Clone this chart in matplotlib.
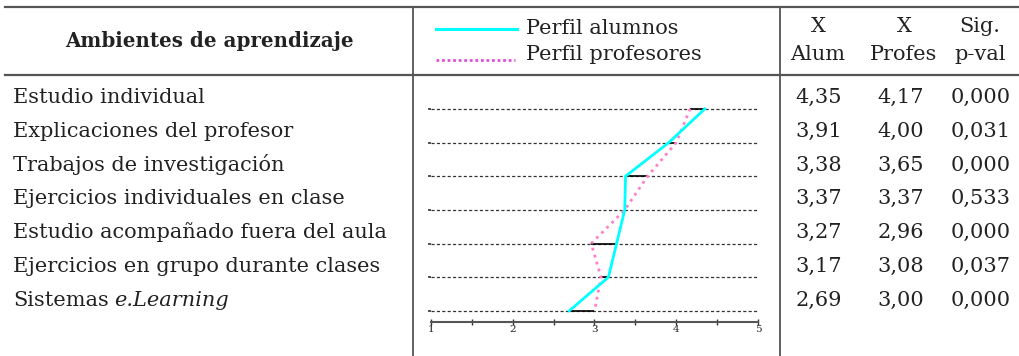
import matplotlib
matplotlib.use('Agg')
import matplotlib.pyplot as plt
from matplotlib.lines import Line2D

plt.rcParams['font.family'] = ['DejaVu Serif']

W, H = 1020, 356

# datos
ambientes = [
    'Estudio individual',
    'Explicaciones del profesor',
    'Trabajos de investigación',
    'Ejercicios individuales en clase',
    'Estudio acompañado fuera del aula',
    'Ejercicios en grupo durante clases',
    'Sistemas',
]
cursiva = ['', '', '', '', '', '', 'e.Learning']
media_alumnos = [4.35, 3.91, 3.38, 3.37, 3.27, 3.17, 2.69]
media_profes = [4.17, 4.00, 3.65, 3.37, 2.96, 3.08, 3.00]
p_valor = ['0,000', '0,031', '0,000', '0,533', '0,000', '0,037', '0,000']

CYAN = '#00ffff'
PINK = '#ff80c8'
LINE = '#555555'
TXT = '#222222'
FS = 15


def fx(x):
    return x / W


def fy(y):
    return 1 - y / H


def coma(v):
    return f'{v:.2f}'.replace('.', ',')


fig = plt.figure(figsize=(W / 100, H / 100), dpi=100)
fig.patch.set_facecolor('white')
renderer = fig.canvas.get_renderer()

# ---- lineas de la tabla ----
for y in (7, 75):
    fig.add_artist(Line2D([fx(5), 1], [fy(y), fy(y)], color=LINE, lw=1.6))
for x in (413, 780):
    fig.add_artist(Line2D([fx(x), fx(x)], [fy(7), 0], color=LINE, lw=1.3))

# ---- cabecera ----
fig.text(fx(209), fy(41), 'Ambientes de aprendizaje', fontsize=14.3,
         fontweight='bold', ha='center', va='center', color=TXT)
fig.text(fx(526), fy(28), 'Perfil alumnos', fontsize=FS, ha='left', va='center', color=TXT)
fig.text(fx(526), fy(55), 'Perfil profesores', fontsize=FS, ha='left', va='center', color=TXT)
fig.add_artist(Line2D([fx(436), fx(517)], [fy(29), fy(29)], color=CYAN, lw=2.2))
fig.add_artist(Line2D([fx(436), fx(515)], [fy(60), fy(60)], color='#e050d8', lw=2,
                      linestyle=(0, (1, 1))))

cols = [(818, 'X', 'Alum'), (904, 'X', 'Profes'), (980, 'Sig.', 'p-val')]
for x, l1, l2 in cols:
    fig.text(fx(x), fy(26), l1, fontsize=FS, ha='center', va='center', color=TXT)
    fig.text(fx(x), fy(55), l2, fontsize=FS, ha='center', va='center', color=TXT)

# ---- filas ----
for i, nombre in enumerate(ambientes):
    y = 103 + 33.8 * i
    t = fig.text(fx(13), fy(y), nombre, fontsize=FS, ha='left', va='baseline', color=TXT)
    if cursiva[i]:
        bb = t.get_window_extent(renderer)
        fig.text(bb.x1 / W + fx(5), fy(y), cursiva[i], fontsize=FS, style='italic',
                 ha='left', va='baseline', color=TXT)
    fig.text(fx(819), fy(y), coma(media_alumnos[i]), fontsize=FS, ha='center', va='baseline', color=TXT)
    fig.text(fx(901), fy(y), coma(media_profes[i]), fontsize=FS, ha='center', va='baseline', color=TXT)
    fig.text(fx(981), fy(y), p_valor[i], fontsize=FS, ha='center', va='baseline', color=TXT)

# ---- grafico de perfiles ----
ax = fig.add_axes([fx(431), fy(322), fx(758) - fx(431), fy(92) - fy(322)])
ax.set_xlim(1, 5)
ax.set_ylim(6.33, -0.5)
filas = list(range(len(ambientes)))

ax.hlines(filas, 1, 5, colors='#333333', linestyles=(0, (2.5, 1.8)), lw=0.9)
ax.hlines(filas, [min(a, p) for a, p in zip(media_alumnos, media_profes)],
          [max(a, p) for a, p in zip(media_alumnos, media_profes)],
          colors='black', lw=1.2, zorder=3)
ax.plot(media_profes, filas, color=PINK, lw=2, linestyle=(0, (1, 1.6)), zorder=4)
ax.plot(media_alumnos, filas, color=CYAN, lw=2, zorder=5)

for s in ('top', 'right', 'left'):
    ax.spines[s].set_visible(False)
ax.spines['bottom'].set_color(LINE)
ax.spines['bottom'].set_linewidth(1.5)
ax.set_xticks([1, 2, 3, 4, 5])
ax.set_xticklabels(['1', '2', '3', '4', '5'], fontsize=7.5, color=TXT)
ax.set_xticks([1.5, 2.5, 3.5, 4.5], minor=True)
ax.tick_params(axis='x', which='both', direction='inout', length=4, width=1, pad=0, color='#333333')
ax.set_yticks(filas)
ax.set_yticklabels([])
ax.tick_params(axis='y', length=2, width=1.2, color='#333333', pad=0)
ax.patch.set_alpha(0)

fig.savefig('out.png', dpi=100, facecolor='white')
